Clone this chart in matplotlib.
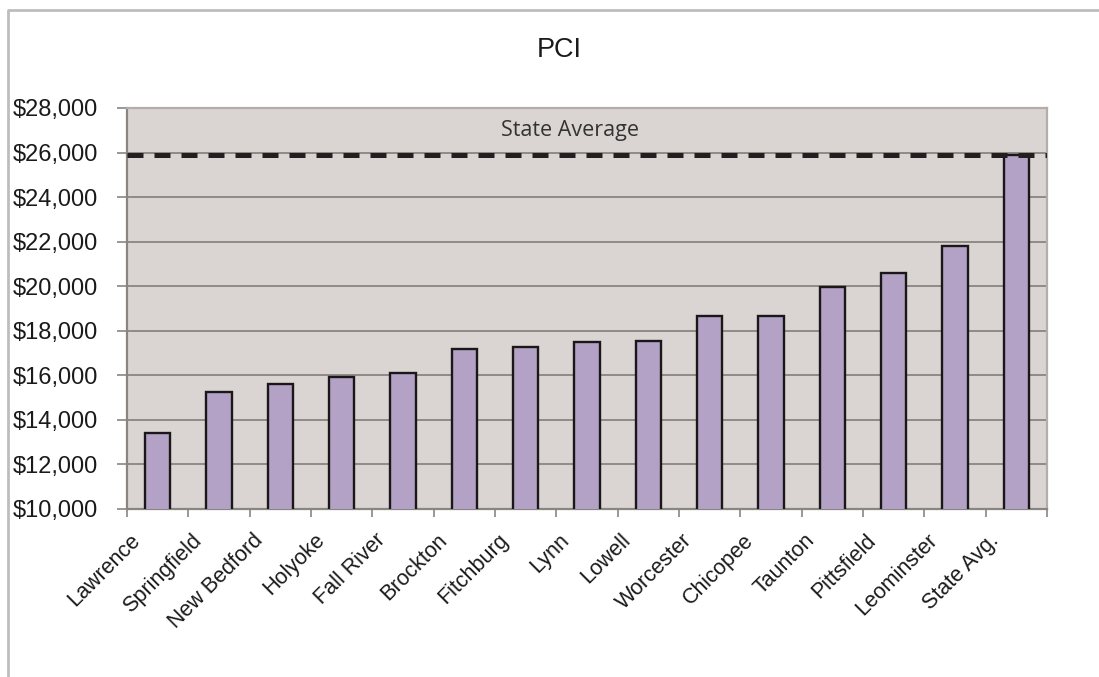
import numpy as np
import matplotlib.pyplot as plt
import matplotlib.transforms as mtransforms
from matplotlib.lines import Line2D
from matplotlib.ticker import FuncFormatter

cities = ['Lawrence', 'Springfield', 'New Bedford', 'Holyoke', 'Fall River',
          'Brockton', 'Fitchburg', 'Lynn', 'Lowell', 'Worcester', 'Chicopee',
          'Taunton', 'Pittsfield', 'Leominster', 'State Avg.']
pci = [13400, 15250, 15620, 15920, 16120, 17160, 17290, 17500, 17540,
       18650, 18680, 19950, 20580, 21800, 25900]
state_avg = 25900

fig = plt.figure(figsize=(10.99, 6.77), dpi=100)
ax = fig.add_axes([0.1156, 0.2482, 0.8371, 0.5923])
ax.set_facecolor('#dad5d2')

x = np.arange(len(cities))
ax.bar(x, pci, width=0.41, color='#b3a1c6', edgecolor='#1a1718',
       linewidth=1.7, zorder=3)

# state average reference line
ax.axhline(state_avg, color='#231f20', linewidth=3.6, dashes=(3.2, 2.2),
           zorder=4)
ax.text(0.4815, 0.945, 'State Average', transform=ax.transAxes,
        ha='center', va='center', fontsize=15.5, family='Open Sans',
        color='#333333')

ax.set_xlim(-0.5, len(cities) - 0.5)
ax.set_ylim(10000, 28000)
ax.set_yticks(np.arange(10000, 28001, 2000))
ax.yaxis.set_major_formatter(FuncFormatter(lambda v, p: f'${v:,.0f}'))
ax.grid(axis='y', color='#8a8581', linewidth=1.3, zorder=1)

ax.set_xticks(x)
ax.set_xticks(np.arange(-0.5, len(cities)), minor=True)
ax.set_xticklabels(cities, rotation=45, ha='right', va='top',
                   fontsize=15.5, family='Liberation Sans', color='#1a1a1a')
ax.tick_params(axis='x', which='major', length=0, pad=15)
ax.tick_params(axis='x', which='minor', length=6, width=1.2,
               color='#8a8581')
ax.tick_params(axis='y', length=7, width=1.2, color='#8a8581', pad=14)
for lab in ax.get_yticklabels():
    lab.set_fontsize(17)
    lab.set_family('Liberation Sans')
    lab.set_color('#1a1a1a')

# nudge the slanted category labels left a little
shift = mtransforms.ScaledTranslation(-0.13, 0.0, fig.dpi_scale_trans)
for lab in ax.get_xticklabels():
    lab.set_transform(lab.get_transform() + shift)

for s in ['top', 'right']:
    ax.spines[s].set_color('#b4aeaa')
    ax.spines[s].set_linewidth(1.6)
for s in ['left', 'bottom']:
    ax.spines[s].set_color('#8a8581')
    ax.spines[s].set_linewidth(1.6)

fig.text(0.509, 0.916, 'PCI', ha='center', va='baseline', fontsize=19.5,
         family='Liberation Sans', color='#1a1a1a')

# outer chart frame (top and left edges)
fig.add_artist(Line2D([8 / 1099, 8 / 1099, 1.0], [0.0, 1 - 10 / 677, 1 - 10 / 677],
                      transform=fig.transFigure, color='#bdbdbd', linewidth=2))

fig.savefig('out.png', dpi=100)
